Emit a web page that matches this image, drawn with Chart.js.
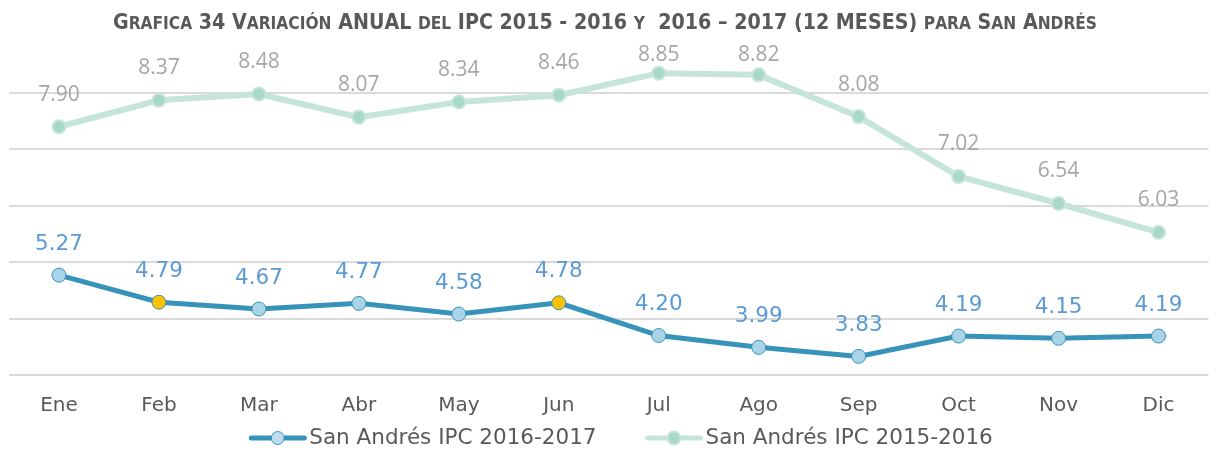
<!DOCTYPE html>
<html lang="es">
<head>
<meta charset="utf-8">
<title>Variación anual del IPC - San Andrés</title>
<script src="https://cdn.jsdelivr.net/npm/chart.js@4.4.0/dist/chart.umd.min.js"></script>
<style>
  html, body { margin: 0; padding: 0; background: #fff; }
  canvas { display: block; }
</style>
</head>
<body>
<canvas id="grafica" width="1217" height="452"></canvas>
<script>
var meses = ['Ene', 'Feb', 'Mar', 'Abr', 'May', 'Jun', 'Jul', 'Ago', 'Sep', 'Oct', 'Nov', 'Dic'];
var ipc20162017 = [5.27, 4.79, 4.67, 4.77, 4.58, 4.78, 4.20, 3.99, 3.83, 4.19, 4.15, 4.19];
var ipc20152016 = [7.90, 8.37, 8.48, 8.07, 8.34, 8.46, 8.85, 8.82, 8.08, 7.02, 6.54, 6.03];
var mesesResaltados = ['Feb', 'Jun'];
var lineasY = [3.5, 4.5, 5.5, 6.5, 7.5, 8.5];
var titulo = 'Grafica 34 Variación ANUAL del IPC 2015 - 2016 y  2016 – 2017 (12 MESES) para San Andrés';

var azul = '#3893bb';
var azulPunto = '#a9d4e8';
var amarillo = '#ffc000';
var verde = '#c6e5da';
var verdePunto = '#a8d8c6';
var grisTexto = '#595959';

// puntos amarillos en los meses resaltados
var fondoPuntos = meses.map(function (m) {
  return mesesResaltados.indexOf(m) > -1 ? amarillo : azulPunto;
});

// etiquetas de valor encima de cada punto (sin pasar del borde superior)
var etiquetas = {
  id: 'etiquetas',
  afterDatasetsDraw: function (chart) {
    var ctx = chart.ctx;
    var estilos = [
      { font: '21.5px "DejaVu Sans"', color: '#5b9bd5', dy: 31 },
      { font: '21px "Open Sans"', color: '#a6a6a6', dy: 32 }
    ];
    var minY = chart.chartArea.top + 18.5;
    ctx.save();
    ctx.textAlign = 'center';
    ctx.textBaseline = 'middle';
    chart.data.datasets.forEach(function (ds, i) {
      var meta = chart.getDatasetMeta(i);
      ctx.font = estilos[i].font;
      ctx.fillStyle = estilos[i].color;
      meta.data.forEach(function (pt, j) {
        var y = Math.max(pt.y - estilos[i].dy, minY);
        ctx.fillText(ds.data[j].toFixed(2), pt.x, y);
      });
    });
    ctx.restore();
  }
};

// titulo en versalitas
var tituloVersalitas = {
  id: 'tituloVersalitas',
  afterDraw: function (chart) {
    var ctx = chart.ctx;
    var grande = 'bold 21px "DejaVu Sans"';
    var chica = 'bold 17px "DejaVu Sans"';
    var partes = [];
    var total = 0;
    for (var i = 0; i < titulo.length; i++) {
      var c = titulo[i];
      var minus = c !== c.toUpperCase();
      var p = { t: c.toUpperCase(), f: minus ? chica : grande };
      ctx.font = p.f;
      p.w = ctx.measureText(p.t).width;
      total += p.w;
      partes.push(p);
    }
    var ancho = 984;
    ctx.save();
    ctx.fillStyle = grisTexto;
    ctx.textBaseline = 'alphabetic';
    ctx.translate(605 - ancho / 2, 29);
    ctx.scale(ancho / total, 1);
    var x = 0;
    partes.forEach(function (p) {
      ctx.font = p.f;
      ctx.fillText(p.t, x, 0);
      x += p.w;
    });
    ctx.restore();
  }
};

// leyenda con linea y marcador
var leyenda = {
  id: 'leyenda',
  afterDraw: function (chart) {
    var ctx = chart.ctx;
    var y = 438;
    var largo = 57, sep = 3, hueco = 49;
    ctx.save();
    ctx.font = '21.5px "DejaVu Sans"';
    var items = chart.data.datasets.map(function (ds) {
      return { ds: ds, w: ctx.measureText(ds.label).width };
    });
    var total = 0;
    items.forEach(function (it, i) { total += largo + sep + it.w + (i ? hueco : 0); });
    var x = 621 - total / 2;
    items.forEach(function (it) {
      var ds = it.ds;
      ctx.strokeStyle = ds.borderColor;
      ctx.lineWidth = 5;
      ctx.lineCap = 'round';
      ctx.beginPath();
      ctx.moveTo(x + 2, y);
      ctx.lineTo(x + largo - 2, y);
      ctx.stroke();
      ctx.beginPath();
      ctx.arc(x + largo / 2, y, 6.5, 0, Math.PI * 2);
      ctx.fillStyle = ds.leyendaPunto;
      ctx.fill();
      ctx.lineWidth = ds.pointBorderWidth;
      ctx.strokeStyle = ds.pointBorderColor;
      ctx.stroke();
      ctx.fillStyle = grisTexto;
      ctx.textAlign = 'left';
      ctx.textBaseline = 'middle';
      ctx.fillText(ds.label, x + largo + sep, y);
      x += largo + sep + it.w + hueco;
    });
    ctx.restore();
  }
};

new Chart(document.getElementById('grafica'), {
  type: 'line',
  data: {
    labels: meses,
    datasets: [{
      label: 'San Andrés IPC 2016-2017',
      data: ipc20162017,
      borderColor: azul,
      borderWidth: 5,
      pointRadius: 7,
      pointBorderWidth: 1,
      pointBorderColor: azul,
      pointBackgroundColor: fondoPuntos,
      leyendaPunto: '#bcdcef',
      tension: 0
    }, {
      label: 'San Andrés IPC 2015-2016',
      data: ipc20152016,
      borderColor: verde,
      borderWidth: 6,
      pointRadius: 6.5,
      pointBorderWidth: 2,
      pointBorderColor: verde,
      pointBackgroundColor: verdePunto,
      leyendaPunto: verdePunto,
      tension: 0
    }]
  },
  options: {
    responsive: false,
    animation: false,
    layout: { padding: { left: 9, right: 1, top: 36.5, bottom: 15 } },
    plugins: {
      legend: { display: false },
      title: { display: false },
      tooltip: { enabled: false }
    },
    scales: {
      x: {
        offset: true,
        grid: { display: false, drawTicks: false },
        border: { display: false },
        ticks: {
          color: grisTexto,
          padding: 19,
          font: { family: 'DejaVu Sans', size: 20 }
        }
      },
      y: {
        min: 3.5,
        max: 9.5,
        afterBuildTicks: function (scale) {
          scale.ticks = lineasY.map(function (v) { return { value: v }; });
        },
        grid: { color: '#dadada', lineWidth: 2, drawTicks: false },
        border: { display: false },
        ticks: { display: false }
      }
    }
  },
  plugins: [etiquetas, tituloVersalitas, leyenda]
});
</script>
</body>
</html>
